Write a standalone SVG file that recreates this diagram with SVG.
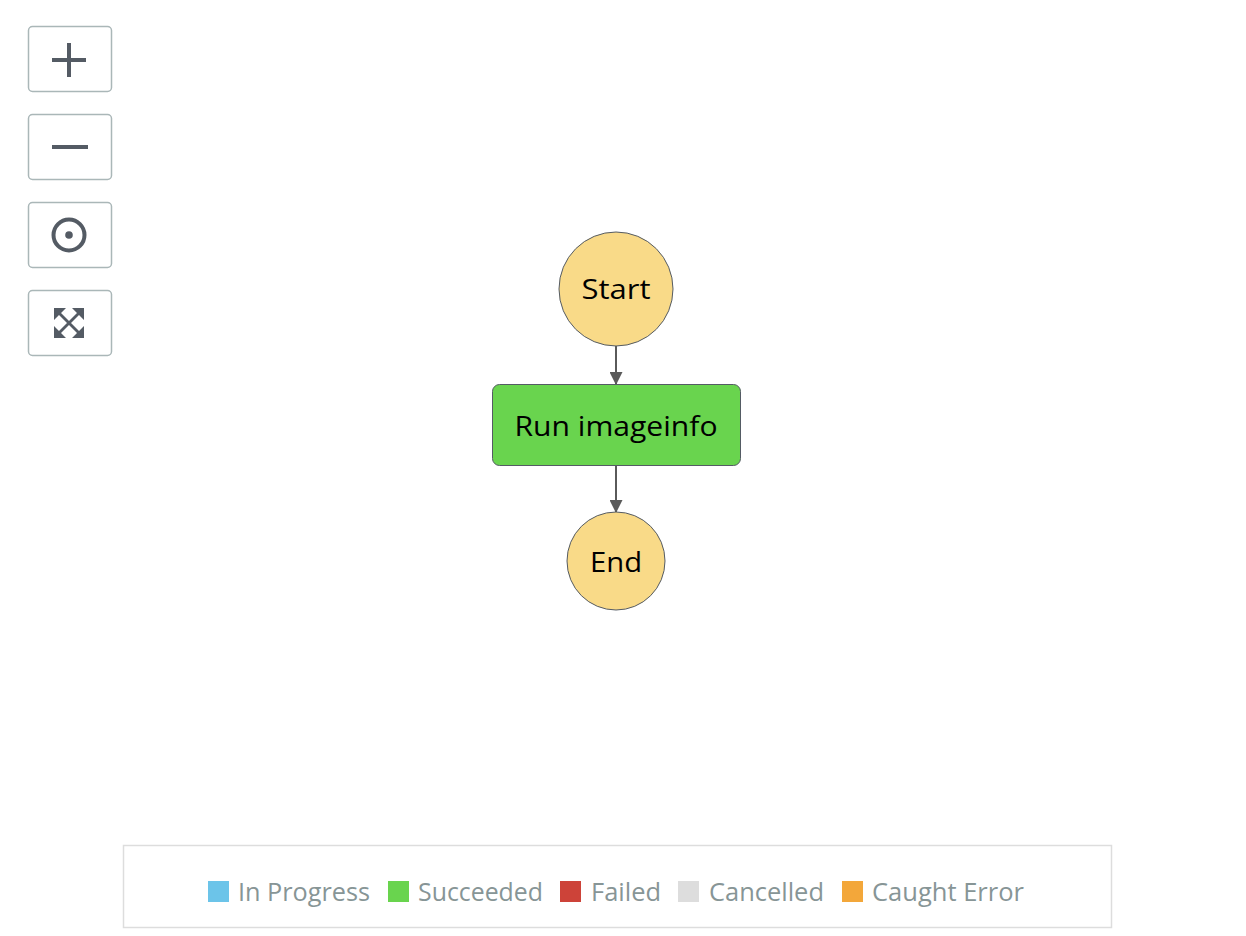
<svg xmlns="http://www.w3.org/2000/svg" width="1246" height="936" viewBox="0 0 1246 936">
<style>
.btn{fill:#fff;stroke:#aab7b8;stroke-width:1.5}
.ico{stroke:#545b64;stroke-width:4;fill:none}
.term{fill:#f9da88;stroke:#545b64;stroke-width:1}
.task{fill:#69d44e;stroke:#545b64;stroke-width:1}
.lbl{font-family:"Open Sans","Noto Sans",sans-serif;font-size:28px;fill:#000;text-anchor:middle}
.edge{stroke:#5a5a5a;stroke-width:2;fill:none}
.leg{font-family:"Open Sans","Noto Sans",sans-serif;font-size:25px;fill:#879596}
</style>
<defs>
<marker id="arr" viewBox="0 0 10 10" refX="10" refY="5" markerWidth="13" markerHeight="13" markerUnits="userSpaceOnUse" orient="auto">
<path d="M0,0 L10,5 L0,10 z" fill="#5a5a5a"/>
</marker>
</defs>
<rect width="1246" height="936" fill="#fff"/>
<g id="zoom-in"><rect class="btn" x="28.5" y="26.5" width="83" height="65" rx="4"/><path class="ico" d="M69,43 V77 M52,60 H86"/></g>
<g id="zoom-out"><rect class="btn" x="28.5" y="114.5" width="83" height="65" rx="4"/><path class="ico" d="M52,147 H88"/></g>
<g id="center"><rect class="btn" x="28.5" y="202.5" width="83" height="65" rx="4"/><circle class="ico" cx="69" cy="235" r="15.5" stroke-width="3.5"/><circle cx="69" cy="235" r="3.8" fill="#545b64"/></g>
<g id="fit"><rect class="btn" x="28.5" y="290.5" width="83" height="65" rx="4"/>
<g fill="#545b64">
<path d="M54,308 H66 L61,313 L69,321 L77,313 L72,308 H84 V320 L79,315 L71,323 L79,331 L84,326 V338 H72 L77,333 L69,325 L61,333 L66,338 H54 V326 L59,331 L67,323 L59,315 L54,320 Z"/>
</g></g>
<g id="connectors">
<line class="edge" x1="616" y1="346" x2="616" y2="385" marker-end="url(#arr)"/>
<line class="edge" x1="616" y1="465" x2="616" y2="513" marker-end="url(#arr)"/>
</g>
<g id="start"><circle class="term" cx="616" cy="289" r="57"/><text class="lbl" x="616" y="299" textLength="69" lengthAdjust="spacingAndGlyphs">Start</text></g>
<g id="run-imageinfo"><rect class="task" x="492.5" y="384.5" width="248" height="81" rx="7"/><text class="lbl" x="616" y="436" textLength="203" lengthAdjust="spacingAndGlyphs">Run imageinfo</text></g>
<g id="end"><circle class="term" cx="616" cy="561" r="49"/><text class="lbl" x="616" y="572" textLength="52" lengthAdjust="spacingAndGlyphs">End</text></g>
<g id="legend">
<rect x="123.5" y="845.5" width="988" height="82" fill="#fff" stroke="#dddddd" stroke-width="1.5"/>
<rect x="208" y="881" width="21" height="21" fill="#6cc4e9"/><text class="leg" x="238" y="901" textLength="132" lengthAdjust="spacingAndGlyphs">In Progress</text>
<rect x="388" y="881" width="21" height="21" fill="#69d44e"/><text class="leg" x="418" y="901" textLength="125" lengthAdjust="spacingAndGlyphs">Succeeded</text>
<rect x="560" y="881" width="21" height="21" fill="#cd4339"/><text class="leg" x="591" y="901" textLength="70" lengthAdjust="spacingAndGlyphs">Failed</text>
<rect x="678" y="881" width="21" height="21" fill="#dddddd"/><text class="leg" x="709" y="901" textLength="115" lengthAdjust="spacingAndGlyphs">Cancelled</text>
<rect x="842" y="881" width="21" height="21" fill="#f3a73a"/><text class="leg" x="872" y="901" textLength="152" lengthAdjust="spacingAndGlyphs">Caught Error</text>
</g>
</svg>
